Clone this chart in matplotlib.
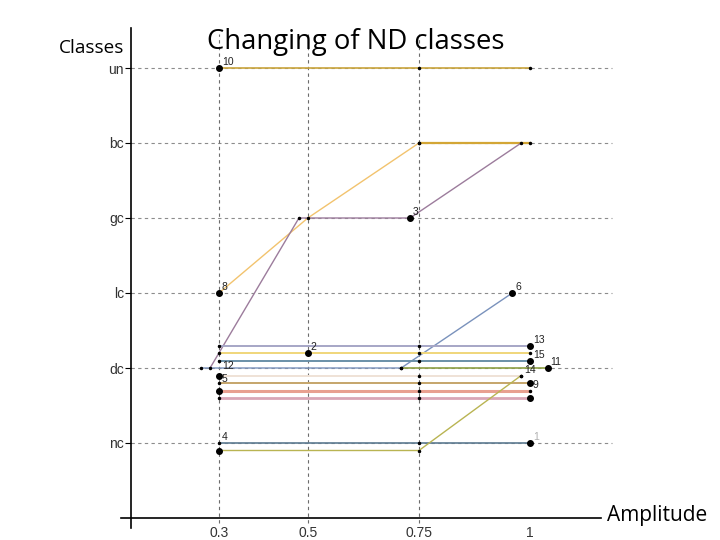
import matplotlib
matplotlib.use('Agg')
from matplotlib import pyplot as plt

plt.rcParams['font.family'] = ['Liberation Sans', 'DejaVu Sans']

# class axis
class_labels = ['nc', 'dc', 'lc', 'gc', 'bc', 'un']
class_levels = [1, 2, 3, 4, 5, 6]
amp_ticks = [0.3, 0.5, 0.75, 1]
amp_labels = ['0.3', '0.5', '0.75', '1']
grid_x = [0.3, 0.5, 0.75]

# each series: amplitudes, class level (offsets inside a band), colour
un_x = [0.3, 0.75, 1.0]
un_y = [6, 6, 6]
s8_x = [0.3, 0.5, 0.75]
s8_y = [3, 4, 5]
bc_x = [0.75, 1.0]
bc_y = [5, 5]
s3_x = [0.28, 0.48, 0.73, 0.98]
s3_y = [2, 4, 4, 5]
s6_x = [0.26, 0.71, 0.96]
s6_y = [2, 2, 3]
s11_x = [0.71, 1.04]
s11_y = [2, 2]
s13_x = [0.3, 0.75, 1.0]
s13_y = [2.3, 2.3, 2.3]
s15_x = [0.3, 0.75, 1.0]
s15_y = [2.2, 2.2, 2.2]
s7_x = [0.3, 0.75, 1.0]
s7_y = [2.1, 2.1, 2.1]
s12_x = [0.3, 0.75, 0.98]
s12_y = [1.9, 1.9, 1.9]
s5_x = [0.3, 0.75, 1.0]
s5_y = [1.8, 1.8, 1.8]
s9_x = [0.3, 0.75, 1.0]
s9_y = [1.7, 1.7, 1.7]
s16_x = [0.3, 0.75, 1.0]
s16_y = [1.6, 1.6, 1.6]
s1_x = [0.3, 0.75, 1.0]
s1_y = [1.0, 1.0, 1.0]
s4_x = [0.3, 0.75, 0.98]
s4_y = [0.9, 0.9, 1.9]

series = [
    (un_x, un_y, '#c9a43c', 1.2),
    (s8_x, s8_y, '#f2c36e', 1.0),
    (bc_x, bc_y, '#d3a635', 1.6),
    (s3_x, s3_y, '#9c7c9c', 1.0),
    (s6_x, s6_y, '#7a92bc', 1.0),
    (s11_x, s11_y, '#8ea044', 1.2),
    (s13_x, s13_y, '#a6a6c6', 1.4),
    (s15_x, s15_y, '#f0d67a', 1.4),
    (s7_x, s7_y, '#6a90a8', 1.4),
    (s12_x, s12_y, '#efe2d6', 1.4),
    (s5_x, s5_y, '#c5a56a', 1.4),
    (s9_x, s9_y, '#e8a090', 2.2),
    (s16_x, s16_y, '#d9a6b6', 2.0),
    (s1_x, s1_y, '#5c7a90', 1.2),
    (s4_x, s4_y, '#b9b452', 1.0),
]

# labelled points
pt_names = ['10', '3', '8', '6', '13', '2', '15', '11', '12', '14', '5', '9', '4', '1']
pt_x = [0.3, 0.73, 0.3, 0.96, 1.0, 0.5, 1.0, 1.04, 0.3, 0.98, 0.3, 1.0, 0.3, 1.0]
pt_y = [6, 4, 3, 3, 2.3, 2.2, 2.1, 2.0, 1.95, 1.9, 1.78, 1.7, 1.0, 1.0]
dot_x = [0.3, 0.73, 0.3, 0.96, 1.0, 0.5, 1.0, 1.04, 0.3, 1.0, 0.3, 1.0, 1.0, 0.3]
dot_y = [6, 4, 3, 3, 2.3, 2.2, 2.1, 2.0, 1.9, 1.8, 1.7, 1.6, 1.0, 0.9]

fig = plt.figure(figsize=(7.2, 5.4), dpi=100)
ax = fig.add_axes([100 / 720, 10 / 540, 520 / 720, 510 / 540])
ax.set_xlim(0.0324, 1.2023)
ax.set_ylim(-0.16, 6.64)

y_axis_x = 0.102
for lv in class_levels:
    ax.plot([y_axis_x, 1.185], [lv, lv], color='#8c8c8c', lw=0.8, ls=(0, (3, 3)), zorder=1)
for gx in grid_x:
    ax.plot([gx, gx], [-0.06, 6.45], color='#6c6c6c', lw=0.8, ls=(0, (3, 3)), zorder=1)

for xs, ys, c, lw in series:
    ax.plot(xs, ys, color=c, lw=lw, zorder=2)
    ax.plot(xs, ys, 'o', color='black', ms=1.5, zorder=3)

ax.plot(dot_x, dot_y, 'o', color='black', ms=4, zorder=4)
for name, x, y in zip(pt_names, pt_x, pt_y):
    col = '#b0b0b0' if name == '1' else '#222222'
    ax.annotate(name, (x, y), xytext=(2, 2), textcoords='offset points',
                fontsize=7.5, color=col, zorder=5)

# axes lines
for side in ['top', 'right']:
    ax.spines[side].set_visible(False)
ax.spines['left'].set_position(('data', y_axis_x))
ax.spines['left'].set_bounds(-0.13, 6.53)
ax.spines['bottom'].set_position(('data', 0))
ax.spines['bottom'].set_bounds(0.08, 1.16)
ax.spines['left'].set_linewidth(1.2)
ax.spines['bottom'].set_linewidth(1.2)

ax.set_yticks(class_levels)
ax.set_yticklabels(class_labels)
ax.set_xticks(amp_ticks)
ax.set_xticklabels(amp_labels)
ax.tick_params(axis='y', length=4, width=0.8, labelsize=10, labelcolor='#333333', pad=1)
ax.tick_params(axis='x', length=0, labelsize=10, labelcolor='#333333', pad=6)

fig.text(59 / 720, 1 - 48 / 540, 'Classes', fontsize=13.7, family=['Open Sans', 'DejaVu Sans'],
         va='center', ha='left')
fig.text(207 / 720, 1 - 42 / 540, 'Changing of ND classes', fontsize=19.8,
         family=['Open Sans', 'DejaVu Sans'], va='center', ha='left')
fig.text(607 / 720, 1 - 515 / 540, 'Amplitude', fontsize=15, family=['Open Sans', 'DejaVu Sans'],
         va='center', ha='left')

fig.savefig('out.png', dpi=100)
